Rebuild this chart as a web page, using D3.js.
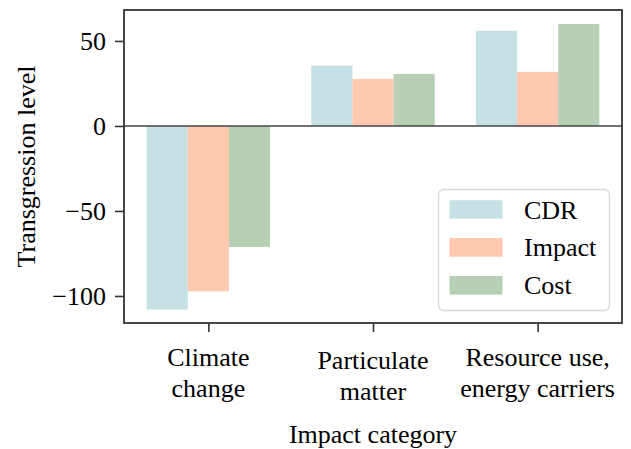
<!DOCTYPE html>
<html>
<head>
<meta charset="utf-8">
<script src="https://cdn.jsdelivr.net/npm/d3@7"></script>
<style>
  html, body { margin: 0; padding: 0; background: #fff; }
  svg { display: block; }
  text { font-family: "Liberation Serif", "Times New Roman", serif; fill: #000; }
</style>
</head>
<body>
<div id="chart"></div>
<script>
// ---- data ----
const categories = [["Climate", "change"], ["Particulate", "matter"], ["Resource use,", "energy carriers"]];
const seriesNames = ["CDR", "Impact", "Cost"];
const cdrValues = [-108, 35.5, 56];
const impactValues = [-97.3, 27.6, 31.8];
const costValues = [-71.2, 30.6, 60];
const yTicks = [-100, -50, 0, 50];
const seriesColors = ["#c5e1e6", "#fec8ae", "#b7cfb5"];
const xLabel = "Impact category";
const yLabel = "Transgression level";

const W = 631, H = 449;
const margin = { left: 124, top: 10, right: 622, bottom: 323 };
const barW = 0.25;
const seriesValues = [cdrValues, impactValues, costValues];

const svg = d3.select("#chart").append("svg").attr("width", W).attr("height", H);

const x = d3.scaleLinear().domain([-0.5125, 2.5125]).range([margin.left, margin.right]);
const y = d3.scaleLinear().domain([-115.9, 68.2]).range([margin.bottom, margin.top]);

// bars
seriesValues.forEach((vals, j) => {
  svg.append("g").selectAll("rect").data(vals).join("rect")
    .attr("x", (d, i) => x(i + (j - 1) * barW - barW / 2))
    .attr("width", (d, i) => x(barW) - x(0))
    .attr("y", d => y(Math.max(0, d)))
    .attr("height", d => Math.abs(y(d) - y(0)))
    .attr("fill", seriesColors[j]);
});

// zero line
svg.append("line")
  .attr("x1", margin.left).attr("x2", margin.right)
  .attr("y1", y(0)).attr("y2", y(0))
  .attr("stroke", "#444").attr("stroke-width", 1.4);

// frame
svg.append("rect")
  .attr("x", margin.left).attr("y", margin.top)
  .attr("width", margin.right - margin.left).attr("height", margin.bottom - margin.top)
  .attr("fill", "none").attr("stroke", "#333").attr("stroke-width", 1.8);

// y axis
const yAxis = d3.axisLeft(y).tickValues(yTicks).tickSize(9).tickPadding(9)
  .tickFormat(d => (d < 0 ? "\u2212" + Math.abs(d) : String(d)));
const gy = svg.append("g").attr("transform", `translate(${margin.left},0)`).call(yAxis);
gy.select(".domain").remove();
gy.selectAll(".tick line").attr("stroke", "#333").attr("stroke-width", 1.6);
gy.selectAll(".tick text").attr("font-size", 26).attr("font-family", "Liberation Serif").attr("fill", "#000").attr("dy", "0.34em");

// x axis ticks
const xAxis = d3.axisBottom(x).tickValues([0, 1, 2]).tickSize(9).tickFormat("");
const gx = svg.append("g").attr("transform", `translate(0,${margin.bottom})`).call(xAxis);
gx.select(".domain").remove();
gx.selectAll(".tick line").attr("stroke", "#333").attr("stroke-width", 1.6);

// x tick labels (multi-line)
const firstBaseline = [366, 369, 366];
categories.forEach((lines, i) => {
  const t = svg.append("text")
    .attr("text-anchor", "middle")
    .attr("font-size", 26)
    .attr("x", x(i)).attr("y", firstBaseline[i]);
  lines.forEach((ln, k) => {
    t.append("tspan").attr("x", x(i)).attr("dy", k === 0 ? 0 : 31).text(ln);
  });
});

// axis labels
svg.append("text").attr("text-anchor", "middle").attr("font-size", 26)
  .attr("x", (margin.left + margin.right) / 2).attr("y", 443).text(xLabel);
svg.append("text").attr("text-anchor", "middle").attr("font-size", 26)
  .attr("transform", `translate(35,${(margin.top + margin.bottom) / 2}) rotate(-90)`)
  .text(yLabel);

// legend
const lg = svg.append("g");
lg.append("rect")
  .attr("x", 438.5).attr("y", 189.5).attr("width", 171).attr("height", 121)
  .attr("rx", 5).attr("fill", "#fff").attr("fill-opacity", 0.8)
  .attr("stroke", "#d8d8d8").attr("stroke-width", 1.3);
seriesNames.forEach((name, j) => {
  const cy = 209.5 + j * 37.9;
  lg.append("rect").attr("x", 449.5).attr("y", cy - 9.3).attr("width", 53).attr("height", 18.6)
    .attr("fill", seriesColors[j]);
  lg.append("text").attr("x", 524).attr("y", cy + 9).attr("font-size", 26).text(name);
});
</script>
</body>
</html>
